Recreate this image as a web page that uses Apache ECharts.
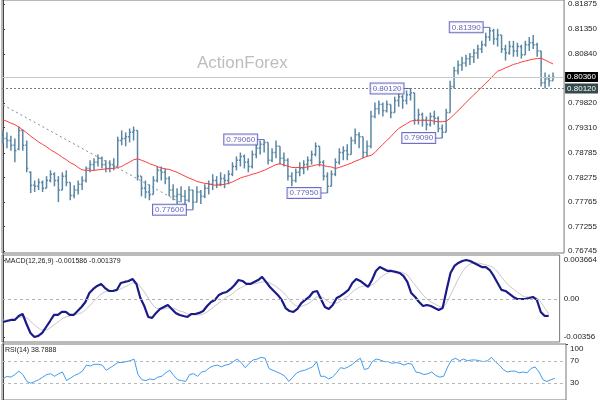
<!DOCTYPE html>
<html>
<head>
<meta charset="utf-8">
<title>ActionForex</title>
<script src="https://cdn.jsdelivr.net/npm/echarts@6/dist/echarts.min.js"></script>
<style>
  html, body { margin: 0; padding: 0; background: #fff; }
  #chart { width: 600px; height: 400px; }
</style>
</head>
<body>
<div id="chart"></div>
<script>
// price panel: OHLC bars, one per index
const barOpen = [
  0.7915, 0.7908, 0.7904, 0.7894, 0.7886, 0.7925, 0.7894, 0.7838, 0.7811, 0.7809,
  0.7817, 0.7805, 0.7821, 0.7834, 0.7821, 0.7801, 0.7830, 0.7817, 0.7790, 0.7801,
  0.7813, 0.7821, 0.7846, 0.7854, 0.7859, 0.7867, 0.7854, 0.7846, 0.7854, 0.7850,
  0.7904, 0.7908, 0.7912, 0.7921, 0.7925, 0.7830, 0.7805, 0.7797, 0.7792, 0.7821,
  0.7842, 0.7838, 0.7825, 0.7801, 0.7788, 0.7792, 0.7788, 0.7780, 0.7801, 0.7776,
  0.7797, 0.7788, 0.7805, 0.7813, 0.7821, 0.7813, 0.7825, 0.7821, 0.7834, 0.7850,
  0.7863, 0.7871, 0.7859, 0.7850, 0.7875, 0.7888, 0.7896, 0.7900, 0.7863, 0.7879,
  0.7892, 0.7867, 0.7863, 0.7830, 0.7821, 0.7838, 0.7846, 0.7854, 0.7863, 0.7875,
  0.7892, 0.7859, 0.7830, 0.7809, 0.7834, 0.7859, 0.7879, 0.7883, 0.7875, 0.7904,
  0.7916, 0.7912, 0.7879, 0.7892, 0.7954, 0.7970, 0.7979, 0.7966, 0.7979, 0.7962,
  0.7987, 0.7995, 0.7987, 0.7999, 0.8003, 0.7946, 0.7958, 0.7946, 0.7937, 0.7954,
  0.7950, 0.7929, 0.7921, 0.7962, 0.8016, 0.8049, 0.8061, 0.8065, 0.8074, 0.8078,
  0.8086, 0.8094, 0.8103, 0.8119, 0.8132, 0.8115, 0.8123, 0.8094, 0.8086, 0.8099,
  0.8090, 0.8099, 0.8082, 0.8103, 0.8107, 0.8103, 0.8090, 0.8024, 0.8032, 0.8028
];
const barHigh = [
  0.7925, 0.7921, 0.7914, 0.7908, 0.7933, 0.7927, 0.7904, 0.7840, 0.7821, 0.7825,
  0.7821, 0.7830, 0.7842, 0.7838, 0.7830, 0.7838, 0.7842, 0.7817, 0.7811, 0.7821,
  0.7830, 0.7850, 0.7863, 0.7867, 0.7875, 0.7871, 0.7863, 0.7863, 0.7867, 0.7912,
  0.7925, 0.7921, 0.7929, 0.7933, 0.7925, 0.7830, 0.7821, 0.7813, 0.7830, 0.7850,
  0.7850, 0.7846, 0.7830, 0.7813, 0.7805, 0.7809, 0.7801, 0.7809, 0.7801, 0.7809,
  0.7801, 0.7813, 0.7821, 0.7834, 0.7830, 0.7838, 0.7834, 0.7842, 0.7859, 0.7871,
  0.7879, 0.7875, 0.7867, 0.7883, 0.7900, 0.7904, 0.7906, 0.7900, 0.7888, 0.7904,
  0.7892, 0.7879, 0.7867, 0.7838, 0.7846, 0.7859, 0.7863, 0.7871, 0.7883, 0.7900,
  0.7892, 0.7863, 0.7838, 0.7842, 0.7867, 0.7888, 0.7892, 0.7896, 0.7912, 0.7929,
  0.7921, 0.7912, 0.7904, 0.7966, 0.7983, 0.7987, 0.7983, 0.7987, 0.7979, 0.7995,
  0.8003, 0.7999, 0.8008, 0.8012, 0.8003, 0.7970, 0.7962, 0.7954, 0.7962, 0.7966,
  0.7954, 0.7937, 0.7970, 0.8028, 0.8057, 0.8070, 0.8078, 0.8082, 0.8086, 0.8094,
  0.8103, 0.8111, 0.8128, 0.8139, 0.8136, 0.8136, 0.8123, 0.8103, 0.8111, 0.8111,
  0.8107, 0.8103, 0.8111, 0.8119, 0.8123, 0.8107, 0.8090, 0.8045, 0.8041, 0.8045
];
const barLow = [
  0.7898, 0.7888, 0.7883, 0.7859, 0.7884, 0.7883, 0.7838, 0.7795, 0.7797, 0.7801,
  0.7797, 0.7805, 0.7817, 0.7809, 0.7776, 0.7801, 0.7809, 0.7780, 0.7784, 0.7792,
  0.7801, 0.7817, 0.7838, 0.7842, 0.7850, 0.7846, 0.7838, 0.7838, 0.7842, 0.7850,
  0.7894, 0.7892, 0.7900, 0.7904, 0.7821, 0.7788, 0.7784, 0.7780, 0.7792, 0.7817,
  0.7821, 0.7813, 0.7788, 0.7780, 0.7772, 0.7776, 0.7768, 0.7776, 0.7760, 0.7776,
  0.7772, 0.7784, 0.7792, 0.7801, 0.7805, 0.7809, 0.7805, 0.7813, 0.7830, 0.7842,
  0.7850, 0.7846, 0.7838, 0.7846, 0.7867, 0.7875, 0.7879, 0.7854, 0.7859, 0.7867,
  0.7854, 0.7850, 0.7821, 0.7809, 0.7817, 0.7830, 0.7834, 0.7842, 0.7854, 0.7871,
  0.7850, 0.7821, 0.7795, 0.7809, 0.7830, 0.7854, 0.7863, 0.7863, 0.7875, 0.7896,
  0.7888, 0.7867, 0.7871, 0.7888, 0.7950, 0.7958, 0.7954, 0.7962, 0.7950, 0.7962,
  0.7974, 0.7970, 0.7979, 0.7987, 0.7937, 0.7937, 0.7933, 0.7925, 0.7933, 0.7937,
  0.7921, 0.7909, 0.7921, 0.7962, 0.8012, 0.8041, 0.8049, 0.8057, 0.8061, 0.8065,
  0.8074, 0.8086, 0.8099, 0.8111, 0.8103, 0.8099, 0.8086, 0.8070, 0.8082, 0.8078,
  0.8078, 0.8074, 0.8082, 0.8090, 0.8094, 0.8078, 0.8016, 0.8012, 0.8016, 0.8028
];
const barClose = [
  0.7908, 0.7904, 0.7894, 0.7883, 0.7925, 0.7894, 0.7846, 0.7811, 0.7809, 0.7817,
  0.7805, 0.7821, 0.7834, 0.7821, 0.7801, 0.7830, 0.7817, 0.7790, 0.7801, 0.7813,
  0.7821, 0.7846, 0.7854, 0.7859, 0.7867, 0.7854, 0.7846, 0.7854, 0.7850, 0.7904,
  0.7908, 0.7912, 0.7921, 0.7925, 0.7830, 0.7805, 0.7797, 0.7792, 0.7821, 0.7842,
  0.7838, 0.7825, 0.7801, 0.7788, 0.7792, 0.7788, 0.7780, 0.7801, 0.7776, 0.7797,
  0.7788, 0.7805, 0.7813, 0.7821, 0.7813, 0.7825, 0.7821, 0.7834, 0.7850, 0.7863,
  0.7871, 0.7859, 0.7850, 0.7875, 0.7888, 0.7896, 0.7900, 0.7863, 0.7879, 0.7892,
  0.7867, 0.7863, 0.7830, 0.7821, 0.7838, 0.7846, 0.7854, 0.7863, 0.7875, 0.7892,
  0.7859, 0.7830, 0.7809, 0.7834, 0.7859, 0.7879, 0.7883, 0.7875, 0.7904, 0.7916,
  0.7912, 0.7879, 0.7892, 0.7954, 0.7970, 0.7979, 0.7966, 0.7979, 0.7962, 0.7987,
  0.7995, 0.7987, 0.7999, 0.8003, 0.7946, 0.7958, 0.7946, 0.7937, 0.7954, 0.7950,
  0.7929, 0.7921, 0.7962, 0.8016, 0.8049, 0.8061, 0.8065, 0.8074, 0.8078, 0.8086,
  0.8094, 0.8103, 0.8119, 0.8132, 0.8115, 0.8123, 0.8094, 0.8086, 0.8099, 0.8090,
  0.8099, 0.8082, 0.8103, 0.8107, 0.8103, 0.8090, 0.8024, 0.8032, 0.8028, 0.8036
];
// red moving average
const maLine = [
  0.7947, 0.7944, 0.7940, 0.7937, 0.7932, 0.7926, 0.7920, 0.7913, 0.7907, 0.7901,
  0.7896, 0.7891, 0.7885, 0.7880, 0.7875, 0.7869, 0.7864, 0.7858, 0.7854, 0.7848,
  0.7843, 0.7842, 0.7842, 0.7842, 0.7843, 0.7844, 0.7845, 0.7846, 0.7846, 0.7848,
  0.7850, 0.7855, 0.7859, 0.7864, 0.7866, 0.7863, 0.7860, 0.7856, 0.7853, 0.7850,
  0.7847, 0.7845, 0.7844, 0.7841, 0.7838, 0.7834, 0.7830, 0.7826, 0.7823, 0.7819,
  0.7817, 0.7815, 0.7814, 0.7812, 0.7811, 0.7812, 0.7813, 0.7815, 0.7818, 0.7822,
  0.7826, 0.7829, 0.7831, 0.7834, 0.7836, 0.7839, 0.7842, 0.7846, 0.7850, 0.7854,
  0.7856, 0.7853, 0.7851, 0.7848, 0.7848, 0.7848, 0.7848, 0.7849, 0.7851, 0.7853,
  0.7854, 0.7852, 0.7850, 0.7849, 0.7846, 0.7848, 0.7851, 0.7854, 0.7857, 0.7861,
  0.7864, 0.7868, 0.7871, 0.7873, 0.7879, 0.7888, 0.7896, 0.7904, 0.7912, 0.7921,
  0.7929, 0.7934, 0.7939, 0.7944, 0.7946, 0.7946, 0.7946, 0.7946, 0.7946, 0.7944,
  0.7943, 0.7943, 0.7944, 0.7950, 0.7958, 0.7966, 0.7974, 0.7983, 0.7991, 0.7999,
  0.8007, 0.8015, 0.8023, 0.8031, 0.8040, 0.8048, 0.8051, 0.8055, 0.8058, 0.8062,
  0.8064, 0.8067, 0.8069, 0.8071, 0.8073, 0.8074, 0.8075, 0.8071, 0.8067, 0.8063
];
// MACD(12,26,9): main and signal
const macdMain = [
  -0.00216, -0.00207, -0.00197, -0.00197, -0.00160, -0.00141, -0.00235, -0.00319, -0.00357, -0.00347,
  -0.00319, -0.00263, -0.00207, -0.00150, -0.00150, -0.00122, -0.00122, -0.00150, -0.00150, -0.00113,
  -0.00075, -0.00028, 0.00056, 0.00094, 0.00122, 0.00141, 0.00103, 0.00075, 0.00075, 0.00085,
  0.00150, 0.00160, 0.00169, 0.00188, 0.00141, 0.00009, -0.00066, -0.00169, -0.00178, -0.00131,
  -0.00094, -0.00075, -0.00056, -0.00094, -0.00131, -0.00150, -0.00160, -0.00169, -0.00141, -0.00141,
  -0.00131, -0.00113, -0.00066, -0.00028, -0.00009, 0.00038, 0.00056, 0.00066, 0.00094, 0.00131,
  0.00178, 0.00169, 0.00141, 0.00141, 0.00160, 0.00178, 0.00207, 0.00160, 0.00113, 0.00075,
  0.00038, -0.00009, -0.00085, -0.00113, -0.00122, -0.00094, -0.00038, -0.00009, 0.00019, 0.00066,
  0.00075, 0.00000, -0.00075, -0.00094, -0.00056, 0.00009, 0.00028, 0.00056, 0.00085, 0.00150,
  0.00188, 0.00169, 0.00141, 0.00113, 0.00178, 0.00263, 0.00300, 0.00282, 0.00263, 0.00263,
  0.00254, 0.00244, 0.00216, 0.00160, 0.00056, 0.00019, -0.00028, -0.00066, -0.00056, -0.00066,
  -0.00085, -0.00103, -0.00085, 0.00085, 0.00244, 0.00310, 0.00338, 0.00357, 0.003664, 0.00357,
  0.00338, 0.00319, 0.00300, 0.00300, 0.00272, 0.00216, 0.00150, 0.00085, 0.00075, 0.00047,
  0.00019, 0.00000, 0.00000, 0.00000, 0.00009, 0.00019, -0.00009, -0.00122, -0.00160, -0.001586
];
const macdSignal = [
  -0.00197, -0.00197, -0.00197, -0.00188, -0.00178, -0.00169, -0.00178, -0.00207, -0.00244, -0.00272,
  -0.00291, -0.00291, -0.00272, -0.00244, -0.00216, -0.00188, -0.00169, -0.00160, -0.00150, -0.00141,
  -0.00131, -0.00103, -0.00066, -0.00028, 0.00009, 0.00047, 0.00066, 0.00075, 0.00075, 0.00085,
  0.00094, 0.00113, 0.00131, 0.00150, 0.00150, 0.00113, 0.00066, 0.00009, -0.00047, -0.00085,
  -0.00094, -0.00094, -0.00085, -0.00085, -0.00094, -0.00113, -0.00122, -0.00141, -0.00150, -0.00150,
  -0.00150, -0.00141, -0.00122, -0.00094, -0.00066, -0.00038, -0.00009, 0.00019, 0.00038, 0.00066,
  0.00094, 0.00113, 0.00131, 0.00141, 0.00141, 0.00150, 0.00160, 0.00160, 0.00150, 0.00131,
  0.00103, 0.00075, 0.00038, -0.00009, -0.00047, -0.00066, -0.00066, -0.00056, -0.00038, -0.00009,
  0.00019, 0.00019, 0.00000, -0.00028, -0.00038, -0.00038, -0.00019, 0.00009, 0.00028, 0.00066,
  0.00094, 0.00113, 0.00122, 0.00122, 0.00131, 0.00160, 0.00197, 0.00225, 0.00244, 0.00254,
  0.00254, 0.00254, 0.00244, 0.00225, 0.00178, 0.00131, 0.00085, 0.00038, 0.00000, -0.00028,
  -0.00047, -0.00066, -0.00075, -0.00038, 0.00038, 0.00113, 0.00188, 0.00254, 0.00300, 0.00329,
  0.00338, 0.00338, 0.00329, 0.00319, 0.00310, 0.00291, 0.00254, 0.00207, 0.00160, 0.00122,
  0.00094, 0.00066, 0.00038, 0.00019, 0.00019, 0.00009, 0.00009, -0.00028, -0.00085, -0.001379
];
// RSI(14)
const rsiLine = [
  37.7, 42.3, 40.8, 45.4, 51.5, 45.4, 33.1, 30.0, 33.1, 36.2,
  40.8, 45.4, 46.9, 42.3, 46.9, 50.0, 34.6, 39.2, 43.8, 46.9,
  51.5, 62.3, 60.8, 63.8, 63.8, 62.3, 53.1, 57.7, 62.3, 66.9,
  66.9, 68.5, 70.0, 73.1, 45.4, 36.2, 34.6, 37.7, 36.2, 40.8,
  42.3, 48.5, 53.1, 43.8, 36.2, 34.6, 33.1, 45.4, 46.9, 42.3,
  50.0, 51.5, 57.7, 60.8, 62.3, 59.2, 62.3, 63.8, 68.5, 73.1,
  66.9, 57.7, 65.4, 71.5, 73.1, 76.2, 74.6, 56.2, 53.1, 50.0,
  46.9, 42.3, 33.1, 40.8, 48.5, 51.5, 53.1, 56.2, 59.2, 68.5,
  42.3, 42.3, 37.7, 40.8, 48.5, 57.7, 56.2, 59.2, 63.8, 70.0,
  74.6, 54.6, 56.2, 68.5, 73.1, 71.5, 68.5, 68.5, 65.4, 66.9,
  65.4, 62.3, 65.4, 63.8, 50.0, 48.5, 45.4, 46.9, 50.0, 43.8,
  40.8, 42.3, 59.2, 71.5, 74.6, 70.0, 73.1, 70.0, 71.5, 71.5,
  70.0, 68.5, 70.0, 76.2, 68.5, 62.3, 54.6, 50.0, 51.5, 51.5,
  48.5, 50.0, 48.5, 56.2, 59.2, 50.0, 36.2, 33.1, 36.2, 38.7888
];

// swing labels, trend line, levels, axis ticks
const swingIdx = [48, 66, 82, 103, 111, 123];
const swingPrice = [0.7760, 0.7906, 0.7795, 0.8012, 0.7909, 0.8139];
const trendIdx = [0, 46];
const trendPrice = [0.7978, 0.7770];
const bidPrice = 0.8036;
const levelPrice = 0.8012;
const priceTicks = [0.81875, 0.8135, 0.8084, 0.7982, 0.7931, 0.78785, 0.78275, 0.77765, 0.77255, 0.76745];
const macdTicks = [0.003664, 0, -0.00356];
const macdTickLabels = ["0.003664", "0.00", "-0.00356"];
const rsiTicks = [70, 30];
const rsiTopTick = [100];

const FONT = "Liberation Sans";
const chart = echarts.init(document.getElementById("chart"), null, { renderer: "canvas" });

const bars = barOpen.map((o, i) => [i, o, barHigh[i], barLow[i], barClose[i]]);
const pairs = (arr) => arr.map((v, i) => [i, v]);

function renderBar(params, api) {
  const i = api.value(0);
  const hi = api.coord([i, api.value(2)]);
  const lo = api.coord([i, api.value(3)]);
  const op = api.coord([i, api.value(1)]);
  const cl = api.coord([i, api.value(4)]);
  const style = { stroke: "#5a87a3", lineWidth: 1.5 };
  return {
    type: "group",
    children: [
      { type: "line", shape: { x1: hi[0], y1: hi[1], x2: lo[0], y2: lo[1] }, style },
      { type: "line", shape: { x1: op[0] - 1.5, y1: op[1], x2: op[0], y2: op[1] }, style },
      { type: "line", shape: { x1: cl[0], y1: cl[1], x2: cl[0] + 1.5, y2: cl[1] }, style },
    ],
  };
}

function xAxisFor(k) {
  return { type: "value", gridIndex: k, min: -0.25, max: 141.8, show: false };
}

function yAxisFor(k, min, max, ticks, formatter) {
  return {
    type: "value",
    gridIndex: k,
    position: "right",
    min,
    max,
    splitLine: { show: false },
    axisLine: { show: true, lineStyle: { color: "#444", width: 1 } },
    axisTick: { show: true, length: 2, customValues: ticks, lineStyle: { color: "#444" } },
    axisLabel: {
      customValues: ticks,
      formatter,
      showMinLabel: true,
      showMaxLabel: true,
      fontSize: 8,
      fontFamily: FONT,
      color: "#222",
      margin: 4,
    },
  };
}

// the "100" label sits just under the top edge of the RSI panel
const rsiTopAxis = yAxisFor(2, 0, 100, rsiTopTick, (v) => String(v));
rsiTopAxis.axisLine = { show: false };
rsiTopAxis.axisLabel.verticalAlign = "top";
rsiTopAxis.axisLabel.padding = [1, 0, 0, 0];

const option = {
  animation: false,
  backgroundColor: "#fff",
  title: [
    {
      text: "ActionForex",
      left: 192,
      top: 50,
      textStyle: { fontSize: 17, fontWeight: "normal", color: "#bdbdbd", fontFamily: FONT },
    },
    {
      text: "MACD(12,26,9) -0.001586 -0.001379",
      left: 3,
      top: 256,
      padding: 2,
      textStyle: { fontSize: 7, fontWeight: "normal", color: "#222", fontFamily: FONT },
    },
    {
      text: "RSI(14) 38.7888",
      left: 3,
      top: 345,
      padding: 2,
      textStyle: { fontSize: 7, fontWeight: "normal", color: "#222", fontFamily: FONT },
    },
  ],
  grid: [
    { left: 2, right: 34, top: -1, height: 254, show: true, borderColor: "#777", borderWidth: 1 },
    { left: 2, right: 34, top: 255, height: 87, show: true, borderColor: "#777", borderWidth: 1 },
    { left: 2, right: 34, top: 344, height: 65.6, show: true, borderColor: "#777", borderWidth: 1 },
  ],
  xAxis: [xAxisFor(0), xAxisFor(1), xAxisFor(2)],
  yAxis: [
    yAxisFor(0, 0.76704, 0.81958, priceTicks, (v) => v.toFixed(5)),
    yAxisFor(1, -0.00404, 0.00413, macdTicks, (v) => {
      let best = 0;
      macdTicks.forEach((t, j) => {
        if (Math.abs(t - v) < Math.abs(macdTicks[best] - v)) best = j;
      });
      return macdTickLabels[best];
    }),
    yAxisFor(2, 0, 100, rsiTicks, (v) => String(v)),
    rsiTopAxis,
  ],
  series: [
    {
      type: "custom",
      name: "EURGBP",
      xAxisIndex: 0,
      yAxisIndex: 0,
      renderItem: renderBar,
      encode: { x: 0, y: [1, 2, 3, 4] },
      data: bars,
      clip: true,
      silent: true,
    },
    {
      type: "line",
      name: "MA",
      xAxisIndex: 0,
      yAxisIndex: 0,
      data: pairs(maLine),
      showSymbol: false,
      lineStyle: { color: "#ff3c3c", width: 1 },
      silent: true,
      markLine: {
        silent: true,
        precision: 5,
        symbol: ["none", "none"],
        data: [
          {
            yAxis: bidPrice,
            lineStyle: { color: "#c8c8c8", type: "solid", width: 1 },
            label: {
              position: "end",
              distance: 1,
              formatter: bidPrice.toFixed(5),
              color: "#fff",
              backgroundColor: "#000",
              padding: [1, 2],
              fontSize: 8,
              fontFamily: FONT,
            },
          },
          {
            yAxis: levelPrice,
            lineStyle: { color: "#6f7f80", type: [2, 2], width: 1 },
            label: {
              position: "end",
              distance: 1,
              formatter: levelPrice.toFixed(5),
              color: "#fff",
              backgroundColor: "#34494b",
              padding: [1, 2],
              fontSize: 8,
              fontFamily: FONT,
            },
          },
        ],
      },
    },
    {
      type: "line",
      name: "Trend",
      xAxisIndex: 0,
      yAxisIndex: 0,
      data: trendIdx.map((x, i) => [x, trendPrice[i]]),
      showSymbol: false,
      lineStyle: { color: "#7f8c8c", type: [2, 3], width: 1 },
      silent: true,
    },
    {
      type: "scatter",
      name: "Swings",
      xAxisIndex: 0,
      yAxisIndex: 0,
      z: 10,
      data: swingIdx.map((x, i) => [x, swingPrice[i]]),
      symbol: "rect",
      symbolSize: [7, 1],
      symbolOffset: [-3.5, 0],
      itemStyle: { color: "#4a4ab8" },
      silent: true,
      label: {
        show: true,
        position: "left",
        distance: 0,
        formatter: (p) => p.value[1].toFixed(5),
        color: "#3a3aa6",
        backgroundColor: "#fff",
        borderColor: "#4a4ab8",
        borderWidth: 1,
        padding: [1, 2],
        fontSize: 8,
        fontFamily: FONT,
      },
    },
    {
      type: "line",
      name: "Signal",
      xAxisIndex: 1,
      yAxisIndex: 1,
      data: pairs(macdSignal),
      showSymbol: false,
      smooth: 0.3,
      lineStyle: { color: "#c8c8c8", width: 1 },
      silent: true,
    },
    {
      type: "line",
      name: "MACD",
      xAxisIndex: 1,
      yAxisIndex: 1,
      data: pairs(macdMain),
      showSymbol: false,
      lineStyle: { color: "#1a1a8a", width: 2.2 },
      silent: true,
      markLine: {
        silent: true,
        symbol: ["none", "none"],
        label: { show: false },
        lineStyle: { color: "#b0b0b0", type: [3, 3], width: 1 },
        data: [{ yAxis: 0 }],
      },
    },
    {
      type: "line",
      name: "RSI",
      xAxisIndex: 2,
      yAxisIndex: 2,
      data: pairs(rsiLine),
      showSymbol: false,
      lineStyle: { color: "#3f9cf2", width: 1 },
      silent: true,
      markLine: {
        silent: true,
        symbol: ["none", "none"],
        label: { show: false },
        lineStyle: { color: "#b8b8b8", type: [3, 3], width: 1 },
        data: [{ yAxis: 70 }, { yAxis: 30 }],
      },
    },
  ],
};

chart.setOption(option);
</script>
</body>
</html>
